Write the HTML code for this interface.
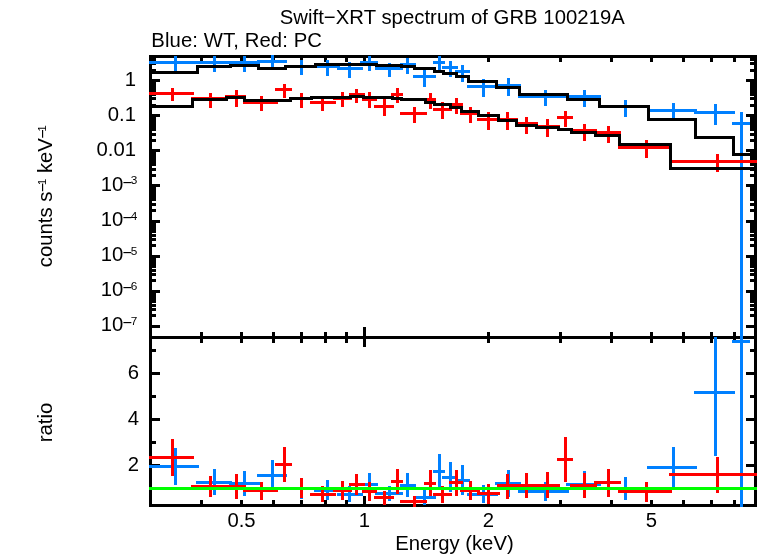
<!DOCTYPE html>
<html><head><meta charset="utf-8"><title>Swift-XRT spectrum of GRB 100219A</title>
<style>
html,body{margin:0;padding:0;background:#fff;}
svg{display:block;}
text{font-family:"Liberation Sans",sans-serif;fill:#000;}
</style></head>
<body>
<svg width="758" height="556" viewBox="0 0 758 556">
<rect x="0" y="0" width="758" height="556" fill="#fff"/>
<g shape-rendering="crispEdges">
<rect x="149" y="55" width="608" height="3" fill="#000"/>
<rect x="149" y="336" width="608" height="3" fill="#000"/>
<rect x="149" y="504" width="608" height="3" fill="#000"/>
<rect x="149" y="55" width="3" height="452" fill="#000"/>
<rect x="754" y="55" width="3" height="452" fill="#000"/>
<rect x="200" y="55" width="3" height="7" fill="#000"/>
<rect x="200" y="332" width="3" height="11" fill="#000"/>
<rect x="200" y="500" width="3" height="7" fill="#000"/>
<rect x="240" y="55" width="3" height="7" fill="#000"/>
<rect x="240" y="332" width="3" height="11" fill="#000"/>
<rect x="240" y="500" width="3" height="7" fill="#000"/>
<rect x="272" y="55" width="3" height="7" fill="#000"/>
<rect x="272" y="332" width="3" height="11" fill="#000"/>
<rect x="272" y="500" width="3" height="7" fill="#000"/>
<rect x="300" y="55" width="3" height="7" fill="#000"/>
<rect x="300" y="332" width="3" height="11" fill="#000"/>
<rect x="300" y="500" width="3" height="7" fill="#000"/>
<rect x="324" y="55" width="3" height="7" fill="#000"/>
<rect x="324" y="332" width="3" height="11" fill="#000"/>
<rect x="324" y="500" width="3" height="7" fill="#000"/>
<rect x="345" y="55" width="3" height="7" fill="#000"/>
<rect x="345" y="332" width="3" height="11" fill="#000"/>
<rect x="345" y="500" width="3" height="7" fill="#000"/>
<rect x="487" y="55" width="3" height="7" fill="#000"/>
<rect x="487" y="332" width="3" height="11" fill="#000"/>
<rect x="487" y="500" width="3" height="7" fill="#000"/>
<rect x="559" y="55" width="3" height="7" fill="#000"/>
<rect x="559" y="332" width="3" height="11" fill="#000"/>
<rect x="559" y="500" width="3" height="7" fill="#000"/>
<rect x="610" y="55" width="3" height="7" fill="#000"/>
<rect x="610" y="332" width="3" height="11" fill="#000"/>
<rect x="610" y="500" width="3" height="7" fill="#000"/>
<rect x="650" y="55" width="3" height="7" fill="#000"/>
<rect x="650" y="332" width="3" height="11" fill="#000"/>
<rect x="650" y="500" width="3" height="7" fill="#000"/>
<rect x="682" y="55" width="3" height="7" fill="#000"/>
<rect x="682" y="332" width="3" height="11" fill="#000"/>
<rect x="682" y="500" width="3" height="7" fill="#000"/>
<rect x="710" y="55" width="3" height="7" fill="#000"/>
<rect x="710" y="332" width="3" height="11" fill="#000"/>
<rect x="710" y="500" width="3" height="7" fill="#000"/>
<rect x="733" y="55" width="3" height="7" fill="#000"/>
<rect x="733" y="332" width="3" height="11" fill="#000"/>
<rect x="733" y="500" width="3" height="7" fill="#000"/>
<rect x="363" y="55" width="3" height="11" fill="#000"/>
<rect x="363" y="327" width="3" height="20" fill="#000"/>
<rect x="363" y="496" width="3" height="11" fill="#000"/>
<rect x="149" y="79" width="11" height="3" fill="#000"/>
<rect x="746" y="79" width="11" height="3" fill="#000"/>
<rect x="149" y="69" width="7" height="3" fill="#000"/>
<rect x="750" y="69" width="7" height="3" fill="#000"/>
<rect x="149" y="62" width="7" height="3" fill="#000"/>
<rect x="750" y="62" width="7" height="3" fill="#000"/>
<rect x="149" y="58" width="7" height="3" fill="#000"/>
<rect x="750" y="58" width="7" height="3" fill="#000"/>
<rect x="149" y="114" width="11" height="3" fill="#000"/>
<rect x="746" y="114" width="11" height="3" fill="#000"/>
<rect x="149" y="104" width="7" height="3" fill="#000"/>
<rect x="750" y="104" width="7" height="3" fill="#000"/>
<rect x="149" y="97" width="7" height="3" fill="#000"/>
<rect x="750" y="97" width="7" height="3" fill="#000"/>
<rect x="149" y="93" width="7" height="3" fill="#000"/>
<rect x="750" y="93" width="7" height="3" fill="#000"/>
<rect x="149" y="90" width="7" height="3" fill="#000"/>
<rect x="750" y="90" width="7" height="3" fill="#000"/>
<rect x="149" y="87" width="7" height="3" fill="#000"/>
<rect x="750" y="87" width="7" height="3" fill="#000"/>
<rect x="149" y="85" width="7" height="3" fill="#000"/>
<rect x="750" y="85" width="7" height="3" fill="#000"/>
<rect x="149" y="83" width="7" height="3" fill="#000"/>
<rect x="750" y="83" width="7" height="3" fill="#000"/>
<rect x="149" y="81" width="7" height="3" fill="#000"/>
<rect x="750" y="81" width="7" height="3" fill="#000"/>
<rect x="149" y="149" width="11" height="3" fill="#000"/>
<rect x="746" y="149" width="11" height="3" fill="#000"/>
<rect x="149" y="139" width="7" height="3" fill="#000"/>
<rect x="750" y="139" width="7" height="3" fill="#000"/>
<rect x="149" y="133" width="7" height="3" fill="#000"/>
<rect x="750" y="133" width="7" height="3" fill="#000"/>
<rect x="149" y="128" width="7" height="3" fill="#000"/>
<rect x="750" y="128" width="7" height="3" fill="#000"/>
<rect x="149" y="125" width="7" height="3" fill="#000"/>
<rect x="750" y="125" width="7" height="3" fill="#000"/>
<rect x="149" y="122" width="7" height="3" fill="#000"/>
<rect x="750" y="122" width="7" height="3" fill="#000"/>
<rect x="149" y="120" width="7" height="3" fill="#000"/>
<rect x="750" y="120" width="7" height="3" fill="#000"/>
<rect x="149" y="118" width="7" height="3" fill="#000"/>
<rect x="750" y="118" width="7" height="3" fill="#000"/>
<rect x="149" y="116" width="7" height="3" fill="#000"/>
<rect x="750" y="116" width="7" height="3" fill="#000"/>
<rect x="149" y="184" width="11" height="3" fill="#000"/>
<rect x="746" y="184" width="11" height="3" fill="#000"/>
<rect x="149" y="174" width="7" height="3" fill="#000"/>
<rect x="750" y="174" width="7" height="3" fill="#000"/>
<rect x="149" y="168" width="7" height="3" fill="#000"/>
<rect x="750" y="168" width="7" height="3" fill="#000"/>
<rect x="149" y="163" width="7" height="3" fill="#000"/>
<rect x="750" y="163" width="7" height="3" fill="#000"/>
<rect x="149" y="160" width="7" height="3" fill="#000"/>
<rect x="750" y="160" width="7" height="3" fill="#000"/>
<rect x="149" y="157" width="7" height="3" fill="#000"/>
<rect x="750" y="157" width="7" height="3" fill="#000"/>
<rect x="149" y="155" width="7" height="3" fill="#000"/>
<rect x="750" y="155" width="7" height="3" fill="#000"/>
<rect x="149" y="153" width="7" height="3" fill="#000"/>
<rect x="750" y="153" width="7" height="3" fill="#000"/>
<rect x="149" y="151" width="7" height="3" fill="#000"/>
<rect x="750" y="151" width="7" height="3" fill="#000"/>
<rect x="149" y="220" width="11" height="3" fill="#000"/>
<rect x="746" y="220" width="11" height="3" fill="#000"/>
<rect x="149" y="209" width="7" height="3" fill="#000"/>
<rect x="750" y="209" width="7" height="3" fill="#000"/>
<rect x="149" y="203" width="7" height="3" fill="#000"/>
<rect x="750" y="203" width="7" height="3" fill="#000"/>
<rect x="149" y="198" width="7" height="3" fill="#000"/>
<rect x="750" y="198" width="7" height="3" fill="#000"/>
<rect x="149" y="195" width="7" height="3" fill="#000"/>
<rect x="750" y="195" width="7" height="3" fill="#000"/>
<rect x="149" y="192" width="7" height="3" fill="#000"/>
<rect x="750" y="192" width="7" height="3" fill="#000"/>
<rect x="149" y="190" width="7" height="3" fill="#000"/>
<rect x="750" y="190" width="7" height="3" fill="#000"/>
<rect x="149" y="188" width="7" height="3" fill="#000"/>
<rect x="750" y="188" width="7" height="3" fill="#000"/>
<rect x="149" y="186" width="7" height="3" fill="#000"/>
<rect x="750" y="186" width="7" height="3" fill="#000"/>
<rect x="149" y="255" width="11" height="3" fill="#000"/>
<rect x="746" y="255" width="11" height="3" fill="#000"/>
<rect x="149" y="244" width="7" height="3" fill="#000"/>
<rect x="750" y="244" width="7" height="3" fill="#000"/>
<rect x="149" y="238" width="7" height="3" fill="#000"/>
<rect x="750" y="238" width="7" height="3" fill="#000"/>
<rect x="149" y="234" width="7" height="3" fill="#000"/>
<rect x="750" y="234" width="7" height="3" fill="#000"/>
<rect x="149" y="230" width="7" height="3" fill="#000"/>
<rect x="750" y="230" width="7" height="3" fill="#000"/>
<rect x="149" y="227" width="7" height="3" fill="#000"/>
<rect x="750" y="227" width="7" height="3" fill="#000"/>
<rect x="149" y="225" width="7" height="3" fill="#000"/>
<rect x="750" y="225" width="7" height="3" fill="#000"/>
<rect x="149" y="223" width="7" height="3" fill="#000"/>
<rect x="750" y="223" width="7" height="3" fill="#000"/>
<rect x="149" y="221" width="7" height="3" fill="#000"/>
<rect x="750" y="221" width="7" height="3" fill="#000"/>
<rect x="149" y="290" width="11" height="3" fill="#000"/>
<rect x="746" y="290" width="11" height="3" fill="#000"/>
<rect x="149" y="279" width="7" height="3" fill="#000"/>
<rect x="750" y="279" width="7" height="3" fill="#000"/>
<rect x="149" y="273" width="7" height="3" fill="#000"/>
<rect x="750" y="273" width="7" height="3" fill="#000"/>
<rect x="149" y="269" width="7" height="3" fill="#000"/>
<rect x="750" y="269" width="7" height="3" fill="#000"/>
<rect x="149" y="265" width="7" height="3" fill="#000"/>
<rect x="750" y="265" width="7" height="3" fill="#000"/>
<rect x="149" y="263" width="7" height="3" fill="#000"/>
<rect x="750" y="263" width="7" height="3" fill="#000"/>
<rect x="149" y="260" width="7" height="3" fill="#000"/>
<rect x="750" y="260" width="7" height="3" fill="#000"/>
<rect x="149" y="258" width="7" height="3" fill="#000"/>
<rect x="750" y="258" width="7" height="3" fill="#000"/>
<rect x="149" y="256" width="7" height="3" fill="#000"/>
<rect x="750" y="256" width="7" height="3" fill="#000"/>
<rect x="149" y="325" width="11" height="3" fill="#000"/>
<rect x="746" y="325" width="11" height="3" fill="#000"/>
<rect x="149" y="314" width="7" height="3" fill="#000"/>
<rect x="750" y="314" width="7" height="3" fill="#000"/>
<rect x="149" y="308" width="7" height="3" fill="#000"/>
<rect x="750" y="308" width="7" height="3" fill="#000"/>
<rect x="149" y="304" width="7" height="3" fill="#000"/>
<rect x="750" y="304" width="7" height="3" fill="#000"/>
<rect x="149" y="300" width="7" height="3" fill="#000"/>
<rect x="750" y="300" width="7" height="3" fill="#000"/>
<rect x="149" y="298" width="7" height="3" fill="#000"/>
<rect x="750" y="298" width="7" height="3" fill="#000"/>
<rect x="149" y="295" width="7" height="3" fill="#000"/>
<rect x="750" y="295" width="7" height="3" fill="#000"/>
<rect x="149" y="293" width="7" height="3" fill="#000"/>
<rect x="750" y="293" width="7" height="3" fill="#000"/>
<rect x="149" y="291" width="7" height="3" fill="#000"/>
<rect x="750" y="291" width="7" height="3" fill="#000"/>
<rect x="149" y="69" width="7" height="3" fill="#000"/>
<rect x="750" y="69" width="7" height="3" fill="#000"/>
<rect x="149" y="62" width="7" height="3" fill="#000"/>
<rect x="750" y="62" width="7" height="3" fill="#000"/>
<rect x="149" y="58" width="7" height="3" fill="#000"/>
<rect x="750" y="58" width="7" height="3" fill="#000"/>
<rect x="149" y="487" width="7" height="3" fill="#000"/>
<rect x="750" y="487" width="7" height="3" fill="#000"/>
<rect x="149" y="464" width="11" height="3" fill="#000"/>
<rect x="746" y="464" width="11" height="3" fill="#000"/>
<rect x="149" y="441" width="7" height="3" fill="#000"/>
<rect x="750" y="441" width="7" height="3" fill="#000"/>
<rect x="149" y="418" width="11" height="3" fill="#000"/>
<rect x="746" y="418" width="11" height="3" fill="#000"/>
<rect x="149" y="395" width="7" height="3" fill="#000"/>
<rect x="750" y="395" width="7" height="3" fill="#000"/>
<rect x="149" y="372" width="11" height="3" fill="#000"/>
<rect x="746" y="372" width="11" height="3" fill="#000"/>
<rect x="149" y="349" width="7" height="3" fill="#000"/>
<rect x="750" y="349" width="7" height="3" fill="#000"/>
<rect x="149" y="61" width="50" height="3" fill="#0080ff"/>
<rect x="174" y="56" width="3" height="15" fill="#0080ff"/>
<rect x="149" y="465" width="50" height="3" fill="#0080ff"/>
<rect x="174" y="448" width="3" height="37" fill="#0080ff"/>
<rect x="196" y="61" width="36" height="3" fill="#0080ff"/>
<rect x="213" y="56" width="3" height="16" fill="#0080ff"/>
<rect x="196" y="481" width="36" height="3" fill="#0080ff"/>
<rect x="213" y="469" width="3" height="26" fill="#0080ff"/>
<rect x="229" y="61" width="31" height="3" fill="#0080ff"/>
<rect x="243" y="56" width="3" height="16" fill="#0080ff"/>
<rect x="229" y="482" width="31" height="3" fill="#0080ff"/>
<rect x="243" y="471" width="3" height="25" fill="#0080ff"/>
<rect x="257" y="60" width="30" height="3" fill="#0080ff"/>
<rect x="271" y="55" width="3" height="12" fill="#0080ff"/>
<rect x="257" y="474" width="30" height="3" fill="#0080ff"/>
<rect x="271" y="460" width="3" height="30" fill="#0080ff"/>
<rect x="284" y="65" width="33" height="3" fill="#0080ff"/>
<rect x="300" y="60" width="3" height="15" fill="#0080ff"/>
<rect x="284" y="487" width="33" height="3" fill="#0080ff"/>
<rect x="300" y="478" width="3" height="21" fill="#0080ff"/>
<rect x="314" y="65" width="26" height="3" fill="#0080ff"/>
<rect x="326" y="60" width="3" height="16" fill="#0080ff"/>
<rect x="314" y="489" width="26" height="3" fill="#0080ff"/>
<rect x="326" y="480" width="3" height="20" fill="#0080ff"/>
<rect x="337" y="67" width="26" height="3" fill="#0080ff"/>
<rect x="348" y="62" width="3" height="16" fill="#0080ff"/>
<rect x="337" y="493" width="26" height="3" fill="#0080ff"/>
<rect x="348" y="486" width="3" height="16" fill="#0080ff"/>
<rect x="360" y="61" width="18" height="3" fill="#0080ff"/>
<rect x="368" y="56" width="3" height="15" fill="#0080ff"/>
<rect x="360" y="483" width="18" height="3" fill="#0080ff"/>
<rect x="368" y="473" width="3" height="23" fill="#0080ff"/>
<rect x="375" y="67" width="28" height="3" fill="#0080ff"/>
<rect x="388" y="63" width="3" height="14" fill="#0080ff"/>
<rect x="375" y="492" width="28" height="3" fill="#0080ff"/>
<rect x="388" y="486" width="3" height="15" fill="#0080ff"/>
<rect x="400" y="63" width="16" height="3" fill="#0080ff"/>
<rect x="406" y="58" width="3" height="16" fill="#0080ff"/>
<rect x="400" y="484" width="16" height="3" fill="#0080ff"/>
<rect x="406" y="473" width="3" height="24" fill="#0080ff"/>
<rect x="413" y="75" width="23" height="3" fill="#0080ff"/>
<rect x="423" y="68" width="3" height="19" fill="#0080ff"/>
<rect x="413" y="496" width="23" height="3" fill="#0080ff"/>
<rect x="423" y="490" width="3" height="15" fill="#0080ff"/>
<rect x="433" y="61" width="12" height="3" fill="#0080ff"/>
<rect x="438" y="56" width="3" height="14" fill="#0080ff"/>
<rect x="433" y="470" width="12" height="3" fill="#0080ff"/>
<rect x="438" y="454" width="3" height="35" fill="#0080ff"/>
<rect x="442" y="66" width="16" height="3" fill="#0080ff"/>
<rect x="449" y="61" width="3" height="16" fill="#0080ff"/>
<rect x="442" y="476" width="16" height="3" fill="#0080ff"/>
<rect x="449" y="462" width="3" height="30" fill="#0080ff"/>
<rect x="455" y="70" width="15" height="3" fill="#0080ff"/>
<rect x="461" y="65" width="3" height="17" fill="#0080ff"/>
<rect x="455" y="479" width="15" height="3" fill="#0080ff"/>
<rect x="461" y="465" width="3" height="30" fill="#0080ff"/>
<rect x="467" y="85" width="31" height="3" fill="#0080ff"/>
<rect x="482" y="79" width="3" height="18" fill="#0080ff"/>
<rect x="467" y="493" width="31" height="3" fill="#0080ff"/>
<rect x="482" y="485" width="3" height="18" fill="#0080ff"/>
<rect x="495" y="84" width="26" height="3" fill="#0080ff"/>
<rect x="507" y="78" width="3" height="18" fill="#0080ff"/>
<rect x="495" y="482" width="26" height="3" fill="#0080ff"/>
<rect x="507" y="470" width="3" height="27" fill="#0080ff"/>
<rect x="518" y="95" width="51" height="3" fill="#0080ff"/>
<rect x="544" y="90" width="3" height="16" fill="#0080ff"/>
<rect x="518" y="490" width="51" height="3" fill="#0080ff"/>
<rect x="544" y="482" width="3" height="19" fill="#0080ff"/>
<rect x="566" y="95" width="35" height="3" fill="#0080ff"/>
<rect x="583" y="90" width="3" height="17" fill="#0080ff"/>
<rect x="566" y="483" width="35" height="3" fill="#0080ff"/>
<rect x="583" y="471" width="3" height="27" fill="#0080ff"/>
<rect x="598" y="105" width="52" height="3" fill="#0080ff"/>
<rect x="624" y="100" width="3" height="17" fill="#0080ff"/>
<rect x="598" y="487" width="52" height="3" fill="#0080ff"/>
<rect x="624" y="477" width="3" height="23" fill="#0080ff"/>
<rect x="647" y="109" width="50" height="3" fill="#0080ff"/>
<rect x="672" y="103" width="3" height="17" fill="#0080ff"/>
<rect x="647" y="466" width="50" height="3" fill="#0080ff"/>
<rect x="672" y="447" width="3" height="41" fill="#0080ff"/>
<rect x="694" y="111" width="41" height="3" fill="#0080ff"/>
<rect x="714" y="104" width="3" height="21" fill="#0080ff"/>
<rect x="694" y="391" width="41" height="3" fill="#0080ff"/>
<rect x="714" y="337" width="3" height="119" fill="#0080ff"/>
<rect x="732" y="122" width="18" height="3" fill="#0080ff"/>
<rect x="740" y="112" width="3" height="226" fill="#0080ff"/>
<rect x="732" y="340" width="18" height="3" fill="#0080ff"/>
<rect x="740" y="337" width="3" height="170" fill="#0080ff"/>
<rect x="149" y="92" width="45" height="3" fill="#ff0000"/>
<rect x="171" y="88" width="3" height="13" fill="#ff0000"/>
<rect x="149" y="456" width="45" height="3" fill="#ff0000"/>
<rect x="171" y="439" width="3" height="37" fill="#ff0000"/>
<rect x="191" y="97" width="37" height="3" fill="#ff0000"/>
<rect x="209" y="93" width="3" height="15" fill="#ff0000"/>
<rect x="191" y="485" width="37" height="3" fill="#ff0000"/>
<rect x="209" y="476" width="3" height="21" fill="#ff0000"/>
<rect x="225" y="95" width="21" height="3" fill="#ff0000"/>
<rect x="235" y="90" width="3" height="17" fill="#ff0000"/>
<rect x="225" y="485" width="21" height="3" fill="#ff0000"/>
<rect x="235" y="474" width="3" height="25" fill="#ff0000"/>
<rect x="243" y="101" width="35" height="3" fill="#ff0000"/>
<rect x="260" y="96" width="3" height="15" fill="#ff0000"/>
<rect x="243" y="489" width="35" height="3" fill="#ff0000"/>
<rect x="260" y="482" width="3" height="18" fill="#ff0000"/>
<rect x="275" y="88" width="17" height="3" fill="#ff0000"/>
<rect x="283" y="84" width="3" height="14" fill="#ff0000"/>
<rect x="275" y="463" width="17" height="3" fill="#ff0000"/>
<rect x="283" y="447" width="3" height="35" fill="#ff0000"/>
<rect x="289" y="97" width="24" height="3" fill="#ff0000"/>
<rect x="300" y="93" width="3" height="15" fill="#ff0000"/>
<rect x="289" y="487" width="24" height="3" fill="#ff0000"/>
<rect x="300" y="478" width="3" height="20" fill="#ff0000"/>
<rect x="310" y="101" width="26" height="3" fill="#ff0000"/>
<rect x="321" y="96" width="3" height="15" fill="#ff0000"/>
<rect x="310" y="493" width="26" height="3" fill="#ff0000"/>
<rect x="321" y="486" width="3" height="16" fill="#ff0000"/>
<rect x="333" y="97" width="19" height="3" fill="#ff0000"/>
<rect x="341" y="92" width="3" height="15" fill="#ff0000"/>
<rect x="333" y="489" width="19" height="3" fill="#ff0000"/>
<rect x="341" y="481" width="3" height="19" fill="#ff0000"/>
<rect x="349" y="93" width="16" height="3" fill="#ff0000"/>
<rect x="355" y="89" width="3" height="14" fill="#ff0000"/>
<rect x="349" y="483" width="16" height="3" fill="#ff0000"/>
<rect x="355" y="474" width="3" height="21" fill="#ff0000"/>
<rect x="362" y="98" width="15" height="3" fill="#ff0000"/>
<rect x="368" y="92" width="3" height="16" fill="#ff0000"/>
<rect x="362" y="490" width="15" height="3" fill="#ff0000"/>
<rect x="368" y="482" width="3" height="19" fill="#ff0000"/>
<rect x="374" y="105" width="20" height="3" fill="#ff0000"/>
<rect x="383" y="99" width="3" height="17" fill="#ff0000"/>
<rect x="374" y="496" width="20" height="3" fill="#ff0000"/>
<rect x="383" y="491" width="3" height="14" fill="#ff0000"/>
<rect x="391" y="93" width="12" height="3" fill="#ff0000"/>
<rect x="396" y="88" width="3" height="15" fill="#ff0000"/>
<rect x="391" y="480" width="12" height="3" fill="#ff0000"/>
<rect x="396" y="469" width="3" height="25" fill="#ff0000"/>
<rect x="400" y="112" width="27" height="3" fill="#ff0000"/>
<rect x="413" y="107" width="3" height="16" fill="#ff0000"/>
<rect x="400" y="500" width="27" height="3" fill="#ff0000"/>
<rect x="413" y="496" width="3" height="11" fill="#ff0000"/>
<rect x="424" y="98" width="12" height="3" fill="#ff0000"/>
<rect x="429" y="93" width="3" height="16" fill="#ff0000"/>
<rect x="424" y="482" width="12" height="3" fill="#ff0000"/>
<rect x="429" y="470" width="3" height="26" fill="#ff0000"/>
<rect x="433" y="108" width="19" height="3" fill="#ff0000"/>
<rect x="441" y="102" width="3" height="17" fill="#ff0000"/>
<rect x="433" y="493" width="19" height="3" fill="#ff0000"/>
<rect x="441" y="486" width="3" height="17" fill="#ff0000"/>
<rect x="449" y="103" width="14" height="3" fill="#ff0000"/>
<rect x="455" y="98" width="3" height="16" fill="#ff0000"/>
<rect x="449" y="481" width="14" height="3" fill="#ff0000"/>
<rect x="455" y="470" width="3" height="26" fill="#ff0000"/>
<rect x="460" y="112" width="20" height="3" fill="#ff0000"/>
<rect x="469" y="107" width="3" height="16" fill="#ff0000"/>
<rect x="460" y="489" width="20" height="3" fill="#ff0000"/>
<rect x="469" y="481" width="3" height="19" fill="#ff0000"/>
<rect x="477" y="118" width="23" height="3" fill="#ff0000"/>
<rect x="487" y="112" width="3" height="18" fill="#ff0000"/>
<rect x="477" y="492" width="23" height="3" fill="#ff0000"/>
<rect x="487" y="484" width="3" height="20" fill="#ff0000"/>
<rect x="497" y="118" width="21" height="3" fill="#ff0000"/>
<rect x="506" y="112" width="3" height="18" fill="#ff0000"/>
<rect x="497" y="484" width="21" height="3" fill="#ff0000"/>
<rect x="506" y="474" width="3" height="25" fill="#ff0000"/>
<rect x="515" y="122" width="23" height="3" fill="#ff0000"/>
<rect x="525" y="117" width="3" height="17" fill="#ff0000"/>
<rect x="515" y="484" width="23" height="3" fill="#ff0000"/>
<rect x="525" y="473" width="3" height="25" fill="#ff0000"/>
<rect x="535" y="125" width="25" height="3" fill="#ff0000"/>
<rect x="546" y="119" width="3" height="18" fill="#ff0000"/>
<rect x="535" y="484" width="25" height="3" fill="#ff0000"/>
<rect x="546" y="472" width="3" height="26" fill="#ff0000"/>
<rect x="557" y="116" width="16" height="3" fill="#ff0000"/>
<rect x="564" y="111" width="3" height="16" fill="#ff0000"/>
<rect x="557" y="458" width="16" height="3" fill="#ff0000"/>
<rect x="564" y="437" width="3" height="45" fill="#ff0000"/>
<rect x="570" y="129" width="27" height="3" fill="#ff0000"/>
<rect x="583" y="124" width="3" height="17" fill="#ff0000"/>
<rect x="570" y="484" width="27" height="3" fill="#ff0000"/>
<rect x="583" y="473" width="3" height="25" fill="#ff0000"/>
<rect x="594" y="131" width="27" height="3" fill="#ff0000"/>
<rect x="607" y="126" width="3" height="17" fill="#ff0000"/>
<rect x="594" y="481" width="27" height="3" fill="#ff0000"/>
<rect x="607" y="469" width="3" height="28" fill="#ff0000"/>
<rect x="618" y="146" width="54" height="3" fill="#ff0000"/>
<rect x="645" y="140" width="3" height="18" fill="#ff0000"/>
<rect x="618" y="490" width="54" height="3" fill="#ff0000"/>
<rect x="645" y="482" width="3" height="20" fill="#ff0000"/>
<rect x="669" y="160" width="88" height="3" fill="#ff0000"/>
<rect x="716" y="154" width="3" height="18" fill="#ff0000"/>
<rect x="669" y="473" width="88" height="3" fill="#ff0000"/>
<rect x="716" y="457" width="3" height="36" fill="#ff0000"/>
<rect x="149" y="71" width="50" height="3" fill="#000"/>
<rect x="196" y="65" width="3" height="9" fill="#000"/>
<rect x="196" y="65" width="36" height="3" fill="#000"/>
<rect x="229" y="64" width="3" height="4" fill="#000"/>
<rect x="229" y="64" width="31" height="3" fill="#000"/>
<rect x="257" y="64" width="3" height="6" fill="#000"/>
<rect x="257" y="67" width="30" height="3" fill="#000"/>
<rect x="284" y="65" width="3" height="5" fill="#000"/>
<rect x="284" y="65" width="33" height="3" fill="#000"/>
<rect x="314" y="63" width="3" height="5" fill="#000"/>
<rect x="314" y="63" width="26" height="3" fill="#000"/>
<rect x="337" y="63" width="3" height="3" fill="#000"/>
<rect x="337" y="63" width="26" height="3" fill="#000"/>
<rect x="360" y="63" width="3" height="3" fill="#000"/>
<rect x="360" y="63" width="18" height="3" fill="#000"/>
<rect x="375" y="63" width="3" height="4" fill="#000"/>
<rect x="375" y="64" width="28" height="3" fill="#000"/>
<rect x="400" y="64" width="3" height="4" fill="#000"/>
<rect x="400" y="65" width="16" height="3" fill="#000"/>
<rect x="413" y="65" width="3" height="5" fill="#000"/>
<rect x="413" y="67" width="23" height="3" fill="#000"/>
<rect x="433" y="67" width="3" height="6" fill="#000"/>
<rect x="433" y="70" width="12" height="3" fill="#000"/>
<rect x="442" y="70" width="3" height="5" fill="#000"/>
<rect x="442" y="72" width="16" height="3" fill="#000"/>
<rect x="455" y="72" width="3" height="6" fill="#000"/>
<rect x="455" y="75" width="15" height="3" fill="#000"/>
<rect x="467" y="75" width="3" height="8" fill="#000"/>
<rect x="467" y="80" width="31" height="3" fill="#000"/>
<rect x="495" y="80" width="3" height="9" fill="#000"/>
<rect x="495" y="86" width="26" height="3" fill="#000"/>
<rect x="518" y="86" width="3" height="10" fill="#000"/>
<rect x="518" y="93" width="51" height="3" fill="#000"/>
<rect x="566" y="93" width="3" height="8" fill="#000"/>
<rect x="566" y="98" width="35" height="3" fill="#000"/>
<rect x="598" y="98" width="3" height="10" fill="#000"/>
<rect x="598" y="105" width="52" height="3" fill="#000"/>
<rect x="647" y="105" width="3" height="16" fill="#000"/>
<rect x="647" y="118" width="50" height="3" fill="#000"/>
<rect x="694" y="118" width="3" height="21" fill="#000"/>
<rect x="694" y="136" width="41" height="3" fill="#000"/>
<rect x="732" y="136" width="3" height="20" fill="#000"/>
<rect x="732" y="153" width="18" height="3" fill="#000"/>
<rect x="149" y="105" width="45" height="3" fill="#000"/>
<rect x="191" y="98" width="3" height="10" fill="#000"/>
<rect x="191" y="98" width="37" height="3" fill="#000"/>
<rect x="225" y="96" width="3" height="5" fill="#000"/>
<rect x="225" y="96" width="21" height="3" fill="#000"/>
<rect x="243" y="96" width="3" height="6" fill="#000"/>
<rect x="243" y="99" width="35" height="3" fill="#000"/>
<rect x="275" y="99" width="3" height="3" fill="#000"/>
<rect x="275" y="99" width="17" height="3" fill="#000"/>
<rect x="289" y="97" width="3" height="5" fill="#000"/>
<rect x="289" y="97" width="24" height="3" fill="#000"/>
<rect x="310" y="96" width="3" height="4" fill="#000"/>
<rect x="310" y="96" width="26" height="3" fill="#000"/>
<rect x="333" y="96" width="3" height="3" fill="#000"/>
<rect x="333" y="96" width="19" height="3" fill="#000"/>
<rect x="349" y="95" width="3" height="4" fill="#000"/>
<rect x="349" y="95" width="16" height="3" fill="#000"/>
<rect x="362" y="95" width="3" height="4" fill="#000"/>
<rect x="362" y="96" width="15" height="3" fill="#000"/>
<rect x="374" y="96" width="3" height="3" fill="#000"/>
<rect x="374" y="96" width="20" height="3" fill="#000"/>
<rect x="391" y="96" width="3" height="4" fill="#000"/>
<rect x="391" y="97" width="12" height="3" fill="#000"/>
<rect x="400" y="97" width="3" height="4" fill="#000"/>
<rect x="400" y="98" width="27" height="3" fill="#000"/>
<rect x="424" y="98" width="3" height="6" fill="#000"/>
<rect x="424" y="101" width="12" height="3" fill="#000"/>
<rect x="433" y="101" width="3" height="5" fill="#000"/>
<rect x="433" y="103" width="19" height="3" fill="#000"/>
<rect x="449" y="103" width="3" height="6" fill="#000"/>
<rect x="449" y="106" width="14" height="3" fill="#000"/>
<rect x="460" y="106" width="3" height="7" fill="#000"/>
<rect x="460" y="110" width="20" height="3" fill="#000"/>
<rect x="477" y="110" width="3" height="7" fill="#000"/>
<rect x="477" y="114" width="23" height="3" fill="#000"/>
<rect x="497" y="114" width="3" height="8" fill="#000"/>
<rect x="497" y="119" width="21" height="3" fill="#000"/>
<rect x="515" y="119" width="3" height="8" fill="#000"/>
<rect x="515" y="124" width="23" height="3" fill="#000"/>
<rect x="535" y="124" width="3" height="5" fill="#000"/>
<rect x="535" y="126" width="25" height="3" fill="#000"/>
<rect x="557" y="126" width="3" height="5" fill="#000"/>
<rect x="557" y="128" width="16" height="3" fill="#000"/>
<rect x="570" y="128" width="3" height="6" fill="#000"/>
<rect x="570" y="131" width="27" height="3" fill="#000"/>
<rect x="594" y="131" width="3" height="6" fill="#000"/>
<rect x="594" y="134" width="27" height="3" fill="#000"/>
<rect x="618" y="134" width="3" height="12" fill="#000"/>
<rect x="618" y="143" width="54" height="3" fill="#000"/>
<rect x="669" y="143" width="3" height="27" fill="#000"/>
<rect x="669" y="167" width="88" height="3" fill="#000"/>
<rect x="149" y="487" width="608" height="3" fill="#00ff00"/>
</g>
<g>
<text x="452.3" y="23.5" text-anchor="middle" font-size="20.3" letter-spacing="0.05">Swift−XRT spectrum of GRB 100219A</text>
<text x="151.3" y="46.5" text-anchor="start" font-size="20.3" letter-spacing="0.1">Blue: WT, Red: PC</text>
<text x="136" y="85.5" text-anchor="end" font-size="20.3" >1</text>
<text x="136" y="120.5" text-anchor="end" font-size="20.3" >0.1</text>
<text x="136" y="155.5" text-anchor="end" font-size="20.3" >0.01</text>
<text x="137.4" y="190.67499999999998" text-anchor="end" font-size="20.3" >10<tspan dy="-3.0" dx="-0.6" font-size="16.3">−</tspan><tspan dy="-3.2" dx="-1.3" font-size="11.8">3</tspan></text>
<text x="137.4" y="225.79999999999998" text-anchor="end" font-size="20.3" >10<tspan dy="-3.0" dx="-0.6" font-size="16.3">−</tspan><tspan dy="-3.2" dx="-1.3" font-size="11.8">4</tspan></text>
<text x="137.4" y="260.925" text-anchor="end" font-size="20.3" >10<tspan dy="-3.0" dx="-0.6" font-size="16.3">−</tspan><tspan dy="-3.2" dx="-1.3" font-size="11.8">5</tspan></text>
<text x="137.4" y="296.05" text-anchor="end" font-size="20.3" >10<tspan dy="-3.0" dx="-0.6" font-size="16.3">−</tspan><tspan dy="-3.2" dx="-1.3" font-size="11.8">6</tspan></text>
<text x="137.4" y="331.175" text-anchor="end" font-size="20.3" >10<tspan dy="-3.0" dx="-0.6" font-size="16.3">−</tspan><tspan dy="-3.2" dx="-1.3" font-size="11.8">7</tspan></text>
<text x="139" y="470.5" text-anchor="end" font-size="20.3" >2</text>
<text x="139" y="424.5" text-anchor="end" font-size="20.3" >4</text>
<text x="139" y="378.5" text-anchor="end" font-size="20.3" >6</text>
<text x="241.5" y="526.8" text-anchor="middle" font-size="20.3" >0.5</text>
<text x="364.5" y="526.8" text-anchor="middle" font-size="20.3" >1</text>
<text x="488.5" y="526.8" text-anchor="middle" font-size="20.3" >2</text>
<text x="651.5" y="526.8" text-anchor="middle" font-size="20.3" >5</text>
<text x="454.5" y="550" text-anchor="middle" font-size="20.3" >Energy (keV)</text>
<text transform="translate(52,196.2) rotate(-90)" text-anchor="middle" font-size="20.3">counts s<tspan dy="-4.5" dx="-0.6" font-size="16.3">−</tspan><tspan dy="-1.3" dx="-2.5" font-size="11.8">1</tspan><tspan dy="5.8" font-size="20.3"> keV</tspan><tspan dy="-4.5" dx="-0.6" font-size="16.3">−</tspan><tspan dy="-1.3" dx="-2.5" font-size="11.8">1</tspan></text>
<text transform="translate(52,422.5) rotate(-90)" text-anchor="middle" font-size="20.3">ratio</text>
</g>
</svg>
</body></html>
